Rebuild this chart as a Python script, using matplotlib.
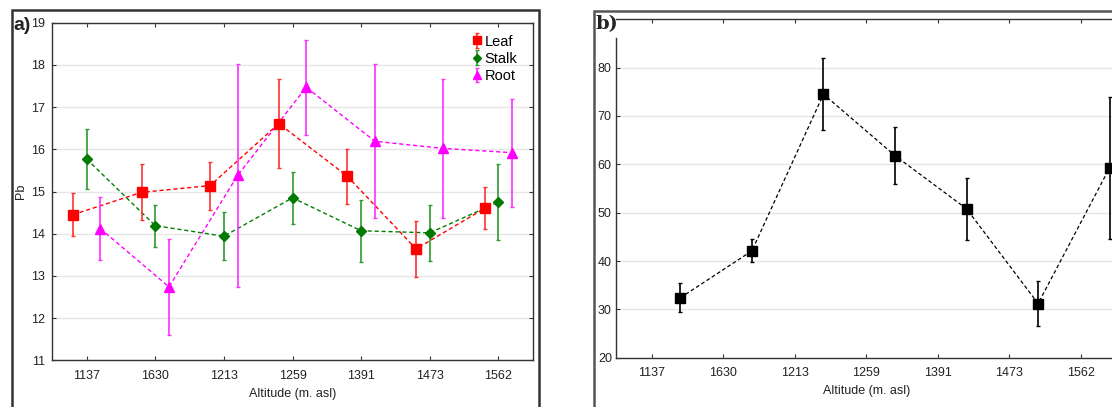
import matplotlib
matplotlib.use("Agg")
import matplotlib.pyplot as plt
from matplotlib.lines import Line2D
import numpy as np

plt.rcParams['font.family'] = ['Liberation Sans', 'DejaVu Sans']

# Sampling sites (altitude, m a.s.l.) in field order
sites = ["1137", "1630", "1213", "1259", "1391", "1473", "1562"]

# Panel a: Pb content by plant organ (mean and error half-width)
leaf_mean = [14.45, 14.98, 15.14, 16.61, 15.36, 13.64, 14.60]
leaf_err = [0.51, 0.66, 0.57, 1.05, 0.65, 0.66, 0.50]
stalk_mean = [15.77, 14.19, 13.94, 14.85, 14.07, 14.02, 14.75]
stalk_err = [0.72, 0.50, 0.57, 0.61, 0.73, 0.67, 0.90]
root_mean = [14.12, 12.74, 15.38, 17.47, 16.19, 16.02, 15.92]
root_err = [0.74, 1.13, 2.65, 1.12, 1.82, 1.64, 1.28]

# Panel b: single series (mean and error half-width)
b_mean = [32.4, 42.1, 74.5, 61.8, 50.8, 31.2, 59.3]
b_err = [3.0, 2.4, 7.4, 5.9, 6.4, 4.7, 14.7]

W, H = 1112, 407
fig = plt.figure(figsize=(W / 100, H / 100), dpi=100)


def px_rect(x0, y0, x1, y1):
    """Convert pixel box (top-left origin) to figure-fraction rect."""
    return [x0 / W, 1 - y1 / H, (x1 - x0) / W, (y1 - y0) / H]


def frame(x0, x1, top, bottom, color, lw):
    """Open-bottom panel border in pixel coordinates."""
    xs = [x0 / W, x0 / W, x1 / W, x1 / W]
    ys = [1 - bottom / H, 1 - top / H, 1 - top / H, 1 - bottom / H]
    fig.add_artist(Line2D(xs, ys, color=color, lw=lw, transform=fig.transFigure,
                          solid_joinstyle='miter'))


x = np.arange(len(sites))
tick_kw = dict(direction='in', length=3, width=0.8, colors='#333333',
               labelsize=9, labelcolor='#222222')

# ---------------- panel a ----------------
ax = fig.add_axes(px_rect(52.3, 22.7, 532.7, 360.3))
series = [
    ("Leaf", leaf_mean, leaf_err, -0.2, 's', '#ff0000', '#ff3030', '#ff0000', 6.5),
    ("Stalk", stalk_mean, stalk_err, 0.0, 'D', '#007a00', '#2e9a2e', '#008000', 5.5),
    ("Root", root_mean, root_err, 0.2, '^', '#ff00ff', '#ff30ff', '#ff00ff', 7.5),
]
handles = []
for name, m, e, off, mk, col, ecol, lcol, ms in series:
    h = ax.errorbar(x + off, m, yerr=e, fmt=mk, color=col, ecolor=ecol,
                    elinewidth=1.2, capsize=1.5, capthick=1.0, ms=ms,
                    mec=col, mfc=col, label=name, zorder=3)
    ax.plot(x + off, m, ls=(0, (3, 2)), lw=1.0, color=lcol, zorder=2)
    handles.append(h)

ax.set_xlim(-0.5, len(sites) - 0.5)
ax.set_ylim(11, 19)
ax.set_yticks(range(11, 20))
ax.set_xticks(x)
ax.set_xticklabels(sites)
ax.yaxis.grid(True, color='#e6e6e6', lw=1.0)
ax.set_axisbelow(True)
ax.tick_params(axis='both', top=True, right=True, **tick_kw)
ax.tick_params(axis='x', pad=7)
ax.tick_params(axis='y', pad=5)
for s in ax.spines.values():
    s.set_color('#333333')
    s.set_linewidth(1.0)
ax.set_xlabel("Altitude (m. asl)", fontsize=9, color='#222222', labelpad=4)
ax.set_ylabel("Pb", fontsize=9, color='#222222', labelpad=3)
ax.legend(handles=handles, loc='upper left', bbox_to_anchor=(0.872, 0.965),
          frameon=False, fontsize=10.5, handlelength=0.8, handletextpad=0.1,
          labelspacing=0.22, borderpad=0.0, borderaxespad=0.0, markerscale=0.8)
frame(11.7, 539, 10, 420, '#333333', 1.8)
fig.text(13 / W, 1 - 25 / H, "a)", fontsize=14, fontweight='bold',
         color='#222222', va='center', ha='left')

# ---------------- panel b ----------------
bx = fig.add_axes(px_rect(616, 19.3, 1116.8, 357.7))
bx.errorbar(x + 0.4, b_mean, yerr=b_err, fmt='s', color='black', ecolor='black',
            elinewidth=1.2, capsize=1.5, capthick=1.0, ms=6.5, zorder=3)
bx.plot(x + 0.4, b_mean, ls=(0, (3, 2)), lw=0.9, color='black', zorder=2)
bx.set_xlim(-0.5, len(sites) - 0.5)
bx.set_ylim(20, 90)
bx.set_yticks(range(20, 90, 10))
bx.set_xticks(x)
bx.set_xticklabels(sites)
bx.yaxis.grid(True, color='#e6e6e6', lw=1.0)
bx.set_axisbelow(True)
bx.tick_params(axis='both', top=True, **tick_kw)
bx.tick_params(axis='x', pad=7)
bx.tick_params(axis='y', pad=3)
for s in bx.spines.values():
    s.set_color('#333333')
    s.set_linewidth(1.0)
bx.spines['left'].set_bounds(20, 86.2)
bx.set_xlabel("Altitude (m. asl)", fontsize=9, color='#222222', labelpad=4)
frame(594, 1200, 10.7, 420, '#555555', 1.8)
fig.text(596 / W, 1 - 24 / H, "b)", fontsize=14, fontweight='bold',
         family='DejaVu Serif', color='#222222', va='center', ha='left')

fig.savefig("out.png", dpi=100)
